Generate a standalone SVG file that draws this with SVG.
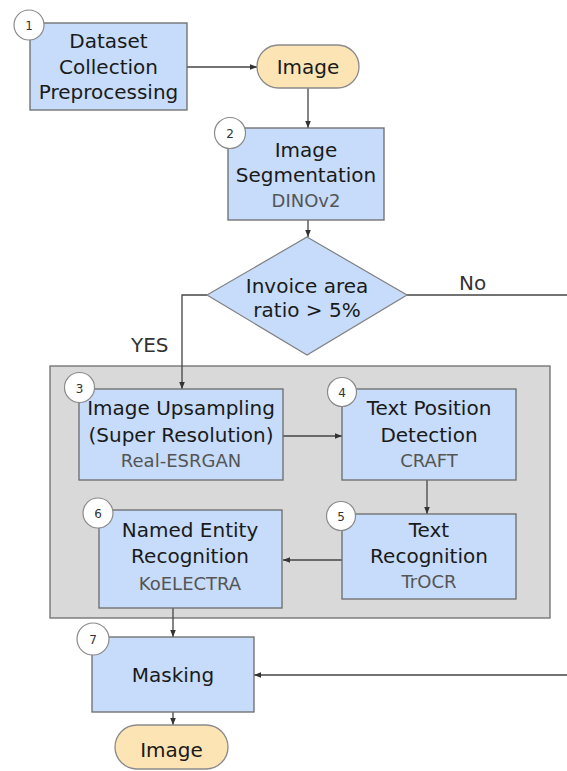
<svg xmlns="http://www.w3.org/2000/svg" width="567" height="771" viewBox="0 0 567 771">
  <defs>
    <marker id="arrow" viewBox="0 0 8 8" refX="8" refY="4" markerWidth="7" markerHeight="7" markerUnits="userSpaceOnUse" orient="auto">
      <path d="M0,0.8 L8,4 L0,7.2 Z" fill="#333"/>
    </marker>
    <style>
      .box { fill: #c6dcfa; stroke: #6a6a6a; stroke-width: 1.3; }
      .term { fill: #fde4b4; stroke: #8a8a8a; stroke-width: 1.3; }
      .dia { fill: #c6dcfa; stroke: #808080; stroke-width: 1.2; }
      .group { fill: #d9d9d9; stroke: #6e6e6e; stroke-width: 1.3; }
      .badge { fill: #ffffff; stroke: #8a8a8a; stroke-width: 1.2; }
      .num { font-family: "DejaVu Sans", "Liberation Sans", sans-serif; font-size: 12px; fill: #333; text-anchor: middle; }
      .t { font-family: "DejaVu Sans", "Liberation Sans", sans-serif; font-size: 20px; fill: #1a1a1a; text-anchor: middle; }
      .sub { font-family: "DejaVu Sans", "Liberation Sans", sans-serif; font-size: 18px; fill: #555; text-anchor: middle; }
      .lbl { font-family: "DejaVu Sans", "Liberation Sans", sans-serif; font-size: 20px; fill: #333; }
      .conn { fill: none; stroke: #444; stroke-width: 1.3; }
    </style>
  </defs>

  <rect width="567" height="771" fill="#ffffff"/>

  <!-- processing group background -->
  <g id="stage-group">
    <rect class="group" x="50" y="366" width="500" height="252"/>
  </g>

  <!-- connectors -->
  <g id="connectors">
    <path class="conn" d="M187,67 H257" marker-end="url(#arrow)"/>
    <path class="conn" d="M308,88 V128" marker-end="url(#arrow)"/>
    <path class="conn" d="M308,220 V237" marker-end="url(#arrow)"/>
    <path class="conn" d="M207,295 H182 V389" marker-end="url(#arrow)"/>
    <path class="conn" d="M407,295 H567"/>
    <path class="conn" d="M283,436 H342" marker-end="url(#arrow)"/>
    <path class="conn" d="M427,480 V514" marker-end="url(#arrow)"/>
    <path class="conn" d="M342,560 H283" marker-end="url(#arrow)"/>
    <path class="conn" d="M173,608 V637" marker-end="url(#arrow)"/>
    <path class="conn" d="M567,675 H254" marker-end="url(#arrow)"/>
    <path class="conn" d="M173,712 V725" marker-end="url(#arrow)"/>
    <text class="lbl" x="459" y="290" font-size="19">No</text>
    <text class="lbl" x="131" y="352" font-size="21">YES</text>
  </g>

  <!-- step 1 -->
  <g id="step1">
    <rect class="box" x="30" y="23" width="157" height="87"/>
    <text class="t" x="108.5" y="48">Dataset</text>
    <text class="t" x="108.5" y="73.5">Collection</text>
    <text class="t" x="108.5" y="99">Preprocessing</text>
    <circle class="badge" cx="29" cy="25" r="15"/>
    <text class="num" x="29" y="30">1</text>
  </g>

  <!-- input image -->
  <g id="image-in">
    <rect class="term" x="257" y="45" width="102" height="43" rx="21.5"/>
    <text class="t" x="308" y="74">Image</text>
  </g>

  <!-- step 2 -->
  <g id="step2">
    <rect class="box" x="228" y="128" width="156" height="92"/>
    <text class="t" x="306" y="157">Image</text>
    <text class="t" x="306" y="182">Segmentation</text>
    <text class="sub" x="306" y="207">DINOv2</text>
    <circle class="badge" cx="230" cy="133" r="15.5"/>
    <text class="num" x="230" y="138">2</text>
  </g>

  <!-- decision -->
  <g id="decision">
    <polygon class="dia" points="307,237 407,295 307,355 207,295"/>
    <text class="t" x="307" y="293" fill="#3a3a3a">Invoice area</text>
    <text class="t" x="307" y="317" fill="#3a3a3a">ratio &gt; 5%</text>
  </g>

  <!-- step 3 -->
  <g id="step3">
    <rect class="box" x="79" y="389" width="204" height="91"/>
    <text class="t" x="181" y="415">Image Upsampling</text>
    <text class="t" x="181" y="442">(Super Resolution)</text>
    <text class="sub" x="181" y="467">Real-ESRGAN</text>
    <circle class="badge" cx="79.5" cy="387.5" r="15"/>
    <text class="num" x="79.5" y="392.5">3</text>
  </g>

  <!-- step 4 -->
  <g id="step4">
    <rect class="box" x="342" y="389" width="174" height="91"/>
    <text class="t" x="429" y="415">Text Position</text>
    <text class="t" x="429" y="442">Detection</text>
    <text class="sub" x="429" y="467">CRAFT</text>
    <circle class="badge" cx="342" cy="392" r="14.5"/>
    <text class="num" x="342" y="397">4</text>
  </g>

  <!-- step 5 -->
  <g id="step5">
    <rect class="box" x="342" y="514" width="174" height="85"/>
    <text class="t" x="429" y="537">Text</text>
    <text class="t" x="429" y="563">Recognition</text>
    <text class="sub" x="429" y="588">TrOCR</text>
    <circle class="badge" cx="341" cy="516" r="14.5"/>
    <text class="num" x="341" y="521">5</text>
  </g>

  <!-- step 6 -->
  <g id="step6">
    <rect class="box" x="99" y="510" width="183" height="98"/>
    <text class="t" x="190" y="537">Named Entity</text>
    <text class="t" x="190" y="563">Recognition</text>
    <text class="sub" x="190" y="590">KoELECTRA</text>
    <circle class="badge" cx="98" cy="513" r="15"/>
    <text class="num" x="98" y="518">6</text>
  </g>

  <!-- step 7 -->
  <g id="step7">
    <rect class="box" x="92" y="637" width="162" height="75"/>
    <text class="t" x="173" y="682">Masking</text>
    <circle class="badge" cx="93" cy="639" r="16"/>
    <text class="num" x="93" y="644">7</text>
  </g>

  <!-- output image -->
  <g id="image-out">
    <rect class="term" x="115" y="725" width="113" height="44" rx="22"/>
    <text class="t" x="171.5" y="757">Image</text>
  </g>
</svg>
